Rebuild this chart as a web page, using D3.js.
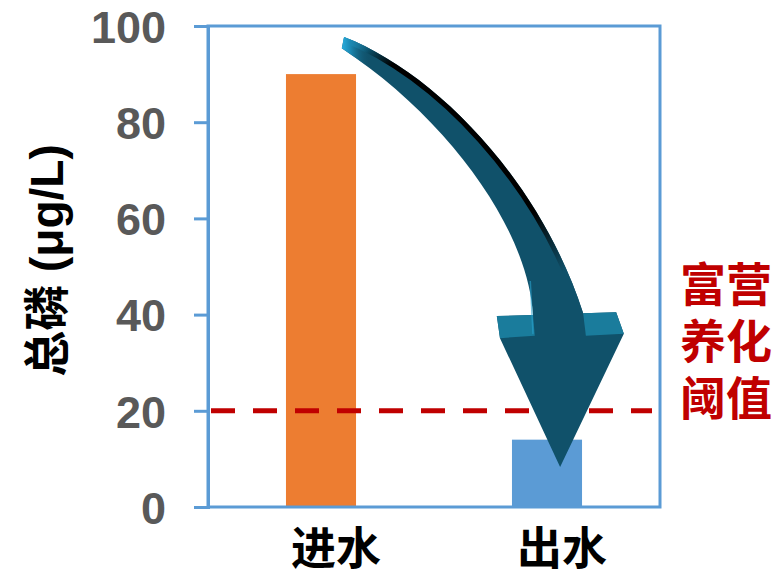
<!DOCTYPE html>
<html><head><meta charset="utf-8">
<script src="https://cdn.jsdelivr.net/npm/d3@7"></script>
<style>html,body{margin:0;padding:0;background:#fff;}svg{display:block;}</style>
</head><body>
<script>
// ---- data ----
const categories = ['进水', '出水'];
const values = [90, 14];
const barColors = ['#ed7d31', '#5b9bd5'];
const yTicks = [0, 20, 40, 60, 80, 100];
const threshold = 20;
const thresholdLabel = ['富营', '养化', '阈值'];
const yTitle = '总磷 (μg/L)';
// arrow outline in [fraction of plot width, y value]
const arrowOuter = [[0.301, 97.7], [0.502, 90.4], [0.735, 68.0], [0.830, 40.3]];
const arrowHead = [[0.903, 40.5], [0.920, 36.0], [0.779, 8.3], [0.646, 35.1], [0.639, 39.7], [0.719, 39.9]];
const arrowInner = [[0.708, 57.6], [0.535, 80.5], [0.296, 95.4]];
const barbLeft = [[0.639, 39.7], [0.719, 39.9], [0.723, 35.6], [0.646, 35.1]];
const barbRight = [[0.830, 40.3], [0.903, 40.5], [0.920, 36.0], [0.836, 35.6]];

const W = 783, H = 571;
const pL = 208, pR = 660, pT = 26, pB = 507;
const svg = d3.select('body').append('svg').attr('width', W).attr('height', H);

const x = d3.scaleBand().domain(categories).range([pL, pR]).padding(0);
const y = d3.scaleLinear().domain([0, 100]).range([pB, pT]);
const fx = d3.scaleLinear().domain([0, 1]).range([pL, pR]);
const P = d => [fx(d[0]), y(d[1])];

const axisColor = '#5b9bd5';
const latin = "'Liberation Sans', Arial, 'Noto Sans CJK SC', sans-serif";
const cjk = "'Noto Sans CJK SC', 'Liberation Sans', sans-serif";

// bars
const bw = x.bandwidth() * 0.31;
svg.selectAll('rect.bar').data(values).enter().append('rect')
  .attr('x', (d, i) => x(categories[i]) + x.bandwidth() / 2 - bw / 2)
  .attr('y', d => y(d))
  .attr('width', bw)
  .attr('height', d => y(0) - y(d))
  .attr('fill', (d, i) => barColors[i]);

// threshold line
svg.append('line')
  .attr('x1', pL + 3).attr('x2', pR - 8)
  .attr('y1', y(threshold)).attr('y2', y(threshold))
  .attr('stroke', '#c00000').attr('stroke-width', 5)
  .attr('stroke-dasharray', '24,18');

// arrow
const defs = svg.append('defs');
const ap = d3.path();
ap.moveTo(...P(arrowOuter[0]));
ap.bezierCurveTo(...P(arrowOuter[1]), ...P(arrowOuter[2]), ...P(arrowOuter[3]));
arrowHead.forEach(d => ap.lineTo(...P(d)));
ap.bezierCurveTo(...P(arrowInner[0]), ...P(arrowInner[1]), ...P(arrowInner[2]));
ap.closePath();
defs.append('clipPath').attr('id', 'arrowClip').append('path').attr('d', ap.toString());

const gBlack = defs.append('linearGradient').attr('id', 'gBlack').attr('gradientUnits', 'userSpaceOnUse')
  .attr('x1', fx(0.301)).attr('y1', y(97)).attr('x2', fx(0.80)).attr('y2', y(50));
[[0, '#2bb3e6'], [0.08, '#0a4b63'], [0.16, '#000000'], [0.80, '#000000'], [1, '#10516a']].forEach(s =>
  gBlack.append('stop').attr('offset', s[0]).attr('stop-color', s[1]));
const gTail = defs.append('linearGradient').attr('id', 'gTail').attr('gradientUnits', 'userSpaceOnUse')
  .attr('x1', fx(0.29)).attr('y1', 0).attr('x2', fx(0.36)).attr('y2', 0);
[[0, '#2fb8ea', 1], [0.35, '#1c8ab4', 1], [1, '#10516a', 0]].forEach(s =>
  gTail.append('stop').attr('offset', s[0]).attr('stop-color', s[1]).attr('stop-opacity', s[2]));

const ag = svg.append('g');
ag.append('path').attr('d', ap.toString()).attr('fill', '#10516a');
const cg = ag.append('g').attr('clip-path', 'url(#arrowClip)');
const op = d3.path();
op.moveTo(...P(arrowOuter[0]));
op.bezierCurveTo(...P(arrowOuter[1]), ...P(arrowOuter[2]), ...P(arrowOuter[3]));
cg.append('path').attr('d', op.toString()).attr('fill', 'none')
  .attr('stroke', 'url(#gBlack)').attr('stroke-width', 10);
cg.append('rect').attr('x', fx(0.28)).attr('y', y(100)).attr('width', fx(0.38) - fx(0.28)).attr('height', y(85) - y(100))
  .attr('fill', 'url(#gTail)');
const barbLine = d3.line();
[barbLeft, barbRight].forEach(b => {
  ag.append('path').attr('d', barbLine(b.map(P)) + 'Z').attr('fill', '#1a7c9c');
});
ag.append('line')
  .attr('x1', fx(0.713)).attr('y1', y(47)).attr('x2', fx(0.719)).attr('y2', y(36))
  .attr('stroke', '#2aa3cf').attr('stroke-width', 1.5).attr('opacity', 0.6);

// frame
svg.append('rect').attr('x', pL).attr('y', pT).attr('width', pR - pL).attr('height', pB - pT)
  .attr('fill', 'none').attr('stroke', axisColor).attr('stroke-width', 3);

// y axis
const yAxis = d3.axisLeft(y).tickValues(yTicks).tickSize(14).tickPadding(28);
const ya = svg.append('g').attr('transform', `translate(${pL},0)`).call(yAxis);
ya.select('.domain').attr('stroke', axisColor).attr('stroke-width', 3);
ya.selectAll('.tick line').attr('stroke', axisColor).attr('stroke-width', 3);
ya.selectAll('.tick text').attr('fill', '#595959')
  .style('font-family', latin).style('font-weight', 'bold').style('font-size', '45px')
  .attr('dy', '0.36em');

// y title
svg.append('text').attr('transform', `translate(47,${(pT + pB) / 2 - 6}) rotate(-90)`)
  .attr('text-anchor', 'middle').attr('dominant-baseline', 'central')
  .style('font-family', latin).style('font-weight', 'bold').style('font-size', '46px')
  .attr('fill', '#000').text(yTitle);

// category labels
svg.selectAll('text.cat').data(categories).enter().append('text')
  .attr('x', d => x(d) + x.bandwidth() / 2 + 15)
  .attr('y', 545)
  .attr('text-anchor', 'middle').attr('dominant-baseline', 'central')
  .style('font-family', cjk).style('font-weight', 'bold').style('font-size', '45px')
  .attr('fill', '#000').text(d => d);

// threshold label
svg.selectAll('text.thr').data(thresholdLabel).enter().append('text')
  .attr('x', 726)
  .attr('y', (d, i) => 281 + i * 57)
  .attr('text-anchor', 'middle').attr('dominant-baseline', 'central')
  .style('font-family', cjk).style('font-weight', 'bold').style('font-size', '46px')
  .attr('fill', '#c00000').text(d => d);
</script>
</body></html>
